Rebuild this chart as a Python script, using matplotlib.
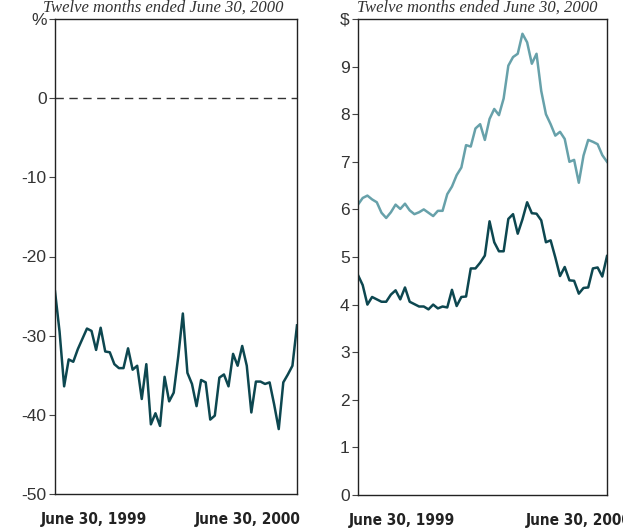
import matplotlib.pyplot as plt
from matplotlib import font_manager

# Weekly values, twelve months ended June 30, 2000
pct_change = [
    -24.4, -29.5, -36.4, -33.0, -33.3, -31.7, -30.4, -29.1, -29.4, -31.8,
    -29.0, -32.0, -32.1, -33.6, -34.1, -34.1, -31.6, -34.3, -33.8, -38.0,
    -33.6, -41.2, -39.8, -41.4, -35.2, -38.3, -37.2, -32.6, -27.2, -34.7,
    -36.1, -38.9, -35.6, -35.9, -40.6, -40.1, -35.3, -34.9, -36.4, -32.3,
    -33.8, -31.3, -33.8, -39.7, -35.8, -35.8, -36.1, -35.9, -38.7, -41.8,
    -35.9, -34.9, -33.8, -28.7,
]

price_high = [
    6.10, 6.24, 6.29, 6.21, 6.15, 5.93, 5.82, 5.94, 6.10, 6.01,
    6.12, 5.98, 5.90, 5.94, 6.00, 5.93, 5.86, 5.97, 5.97, 6.32,
    6.48, 6.72, 6.88, 7.35, 7.32, 7.70, 7.79, 7.46, 7.90, 8.11,
    7.98, 8.33, 9.02, 9.20, 9.27, 9.69, 9.51, 9.06, 9.27, 8.49,
    8.00, 7.79, 7.55, 7.63, 7.48, 7.00, 7.04, 6.56, 7.13, 7.46,
    7.42, 7.37, 7.14, 7.00,
]

price_low = [
    4.62, 4.41, 4.00, 4.16, 4.11, 4.06, 4.06, 4.21, 4.30, 4.11,
    4.36, 4.06, 4.01, 3.96, 3.96, 3.90, 4.00, 3.92, 3.96, 3.94,
    4.31, 3.97, 4.16, 4.17, 4.76, 4.76, 4.88, 5.03, 5.75, 5.31,
    5.12, 5.12, 5.80, 5.90, 5.49, 5.79, 6.15, 5.92, 5.91, 5.77,
    5.31, 5.35, 4.99, 4.60, 4.79, 4.51, 4.50, 4.23, 4.35, 4.36,
    4.76, 4.78, 4.59, 5.02,
]

date_labels = ['June 30, 1999', 'June 30, 2000']
title_text = 'Twelve months ended June 30, 2000'

dark = '#0d4750'
light = '#67a1aa'
text_col = '#333333'

# look for a condensed bold face for the date labels
narrow_file = None
for f in font_manager.fontManager.ttflist:
    fn = f.fname.lower()
    if ('narrow' in fn or 'condensed' in fn) and 'bold' in fn and 'oblique' not in fn and 'italic' not in fn:
        narrow_file = f.fname
        break
if narrow_file:
    date_font = font_manager.FontProperties(fname=narrow_file, size=11)
else:
    date_font = font_manager.FontProperties(family='DejaVu Sans', weight='bold', size=10)

plt.rcParams['font.family'] = ['Liberation Sans', 'DejaVu Sans']

weeks = list(range(len(pct_change)))

fig = plt.figure(figsize=(6.23, 5.30), dpi=100)
W, H = 623, 530

ax1 = fig.add_axes([55 / W, 36 / H, 242 / W, 475 / H])
ax2 = fig.add_axes([358 / W, 35 / H, 249 / W, 476 / H])

# Left panel: percent change
ax1.plot(weeks, pct_change, color=dark, lw=1.8)
ax1.axhline(0, color='#333333', lw=1, dashes=(6, 4))
ax1.set_xlim(0, len(weeks) - 1)
ax1.set_ylim(-50, 10)
ax1.set_yticks([10, 0, -10, -20, -30, -40, -50])
ax1.set_yticklabels(['%', '0', '-10', '-20', '-30', '-40', '-50'])
ax1.set_xticks([8.5, 42.3])
ax1.set_xticklabels(date_labels)

# Right panel: price range
ax2.plot(weeks, price_high, color=light, lw=1.8)
ax2.plot(weeks, price_low, color=dark, lw=1.8)
ax2.set_xlim(0, len(weeks) - 1)
ax2.set_ylim(0, 10)
ax2.set_yticks(range(0, 11))
ax2.set_yticklabels([str(i) for i in range(10)] + ['$'])
ax2.set_xticks([9.3, 47.0])
ax2.set_xticklabels(date_labels)

for ax in (ax1, ax2):
    ax.tick_params(axis='y', length=4, width=0.8, color='#444444',
                   labelsize=12.5, labelcolor=text_col, pad=2)
    ax.tick_params(axis='x', length=0, pad=13)
    for lab in ax.get_xticklabels():
        lab.set_fontproperties(date_font)
        lab.set_color('#222222')
    for s in ax.spines.values():
        s.set_color('#222222')
        s.set_linewidth(1)

fig.text(43 / W, 1 - 12 / H, title_text, ha='left', va='baseline',
         fontsize=12, style='italic', family='Liberation Serif', color=text_col)
fig.text(357 / W, 1 - 12 / H, title_text, ha='left', va='baseline',
         fontsize=12, style='italic', family='Liberation Serif', color=text_col)

plt.savefig('out.png', dpi=100)
